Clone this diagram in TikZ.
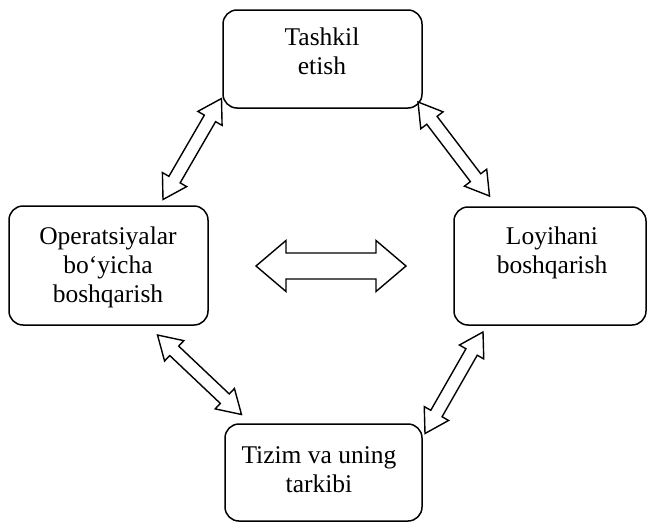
\documentclass[tikz,border=0pt]{standalone}
\usepackage{fontspec}
\setmainfont{Liberation Serif}
\usetikzlibrary{calc}
\newcommand{\hollowdbl}[5]{%
  \draw[hollowarrow] (#1)
    -- ($(#1)!#3!(#2)!#4!90:(#2)$)
    -- ($(#1)!#3!(#2)!#5!90:(#2)$)
    -- ($(#2)!#3!(#1)!#5!-90:(#1)$)
    -- ($(#2)!#3!(#1)!#4!-90:(#1)$)
    -- (#2)
    -- ($(#2)!#3!(#1)!#4!90:(#1)$)
    -- ($(#2)!#3!(#1)!#5!90:(#1)$)
    -- ($(#1)!#3!(#2)!#5!-90:(#2)$)
    -- ($(#1)!#3!(#2)!#4!-90:(#2)$)
    -- cycle;}
\begin{document}
\begin{tikzpicture}[x=1pt,y=-1pt,
  box/.style={draw, rounded corners=14pt, line width=1.5pt, inner sep=0pt},
  txt/.style={align=center, anchor=base, inner sep=0pt,
    font=\fontsize{25.5}{29}\selectfont},
  hollowarrow/.style={draw, line width=1.4pt, line join=miter, fill=white}]
\fill[white] (0,0) rectangle (648,522);
\useasboundingbox (0,0) rectangle (648,522);
% boxes
\node[box, minimum width=199pt, minimum height=98pt] (top) at (322.5,59) {};
\node[box, minimum width=199pt, minimum height=119pt] (left) at (108.5,265.5) {};
\node[box, minimum width=192pt, minimum height=118pt] (right) at (550,266) {};
\node[box, minimum width=197pt, minimum height=97pt] (bottom) at (323.5,472.5) {};
% texts (anchor = baseline of the last line)
\node[txt] (ttop) at (322,74) {Tashkil\\etish};
\node[txt] (tleft) at (108,302) {Operatsiyalar\\bo‘yicha\\boshqarish};
\node[txt] (tright) at (552,273) {Loyihani\\boshqarish};
\node[txt] (tbottom) at (319,492) {Tizim va uning\\tarkibi};
% arrow tips
\coordinate (a1) at (221.5,98.5);
\coordinate (a2) at (163,199.5);
\coordinate (b1) at (418,102);
\coordinate (b2) at (489.5,196);
\coordinate (c1) at (157.5,335);
\coordinate (c2) at (241.5,414.5);
\coordinate (d1) at (483,332);
\coordinate (d2) at (425,433.5);
\coordinate (e1) at (256,266);
\coordinate (e2) at (406,266);
% arrows
\hollowdbl{a1}{a2}{23pt}{14pt}{6.5pt}
\hollowdbl{b1}{b2}{23pt}{14pt}{6.5pt}
\hollowdbl{c1}{c2}{23pt}{14pt}{6.5pt}
\hollowdbl{d1}{d2}{23pt}{14pt}{6.5pt}
\hollowdbl{e1}{e2}{30pt}{25.5pt}{13pt}
\end{tikzpicture}
\end{document}
